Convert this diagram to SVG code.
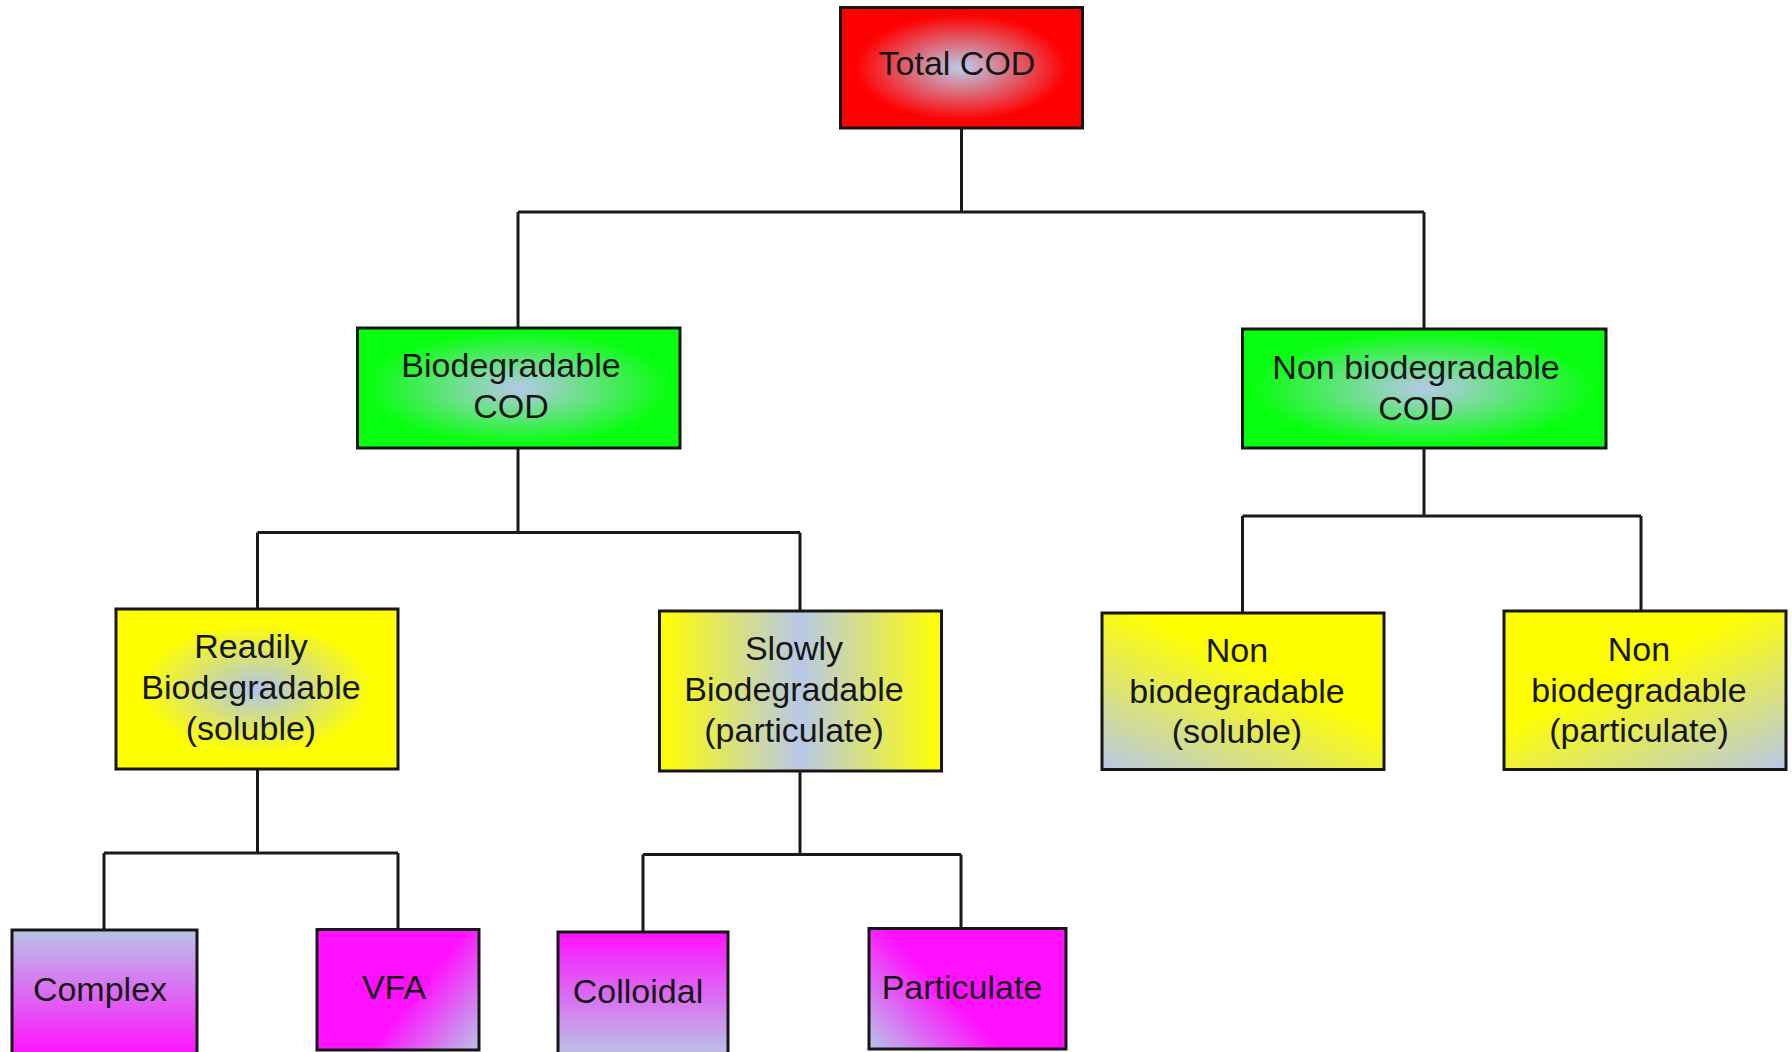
<svg xmlns="http://www.w3.org/2000/svg" width="1792" height="1052" viewBox="0 0 1792 1052">
<style>
.box{stroke:#161616;stroke-width:3}
.lbl{font-family:"Liberation Sans",Arial,sans-serif;font-size:34px;fill:#161616;text-anchor:middle}
.conn{fill:none;stroke:#1a1a1a;stroke-width:3;stroke-linejoin:miter}
</style>
<defs>
<radialGradient id="gRed" cx="50%" cy="50%" r="55%">
<stop offset="0" stop-color="#bccbe8"/><stop offset="0.8" stop-color="#ff0000"/></radialGradient>
<radialGradient id="gGreen" cx="50%" cy="50%" r="55%">
<stop offset="0" stop-color="#b8c8e8"/><stop offset="0.85" stop-color="#08ff10"/></radialGradient>
<radialGradient id="gYelRad" cx="50%" cy="50%" r="55%">
<stop offset="0" stop-color="#b0c4ec"/><stop offset="0.75" stop-color="#ffff00"/></radialGradient>
<linearGradient id="gYelMid" x1="0" y1="0" x2="1" y2="0">
<stop offset="0" stop-color="#ffff00"/><stop offset="0.5" stop-color="#b8c8e8"/><stop offset="1" stop-color="#ffff00"/></linearGradient>
<linearGradient id="gYelBL" x1="0" y1="1" x2="0.55" y2="0.35">
<stop offset="0" stop-color="#b8c8e8"/><stop offset="1" stop-color="#ffff00"/></linearGradient>
<linearGradient id="gYelBR" x1="1" y1="1" x2="0.45" y2="0.35">
<stop offset="0" stop-color="#b8c8e8"/><stop offset="1" stop-color="#ffff00"/></linearGradient>
<linearGradient id="gMagDown" x1="0" y1="0" x2="0" y2="1">
<stop offset="0" stop-color="#b8c4e6"/><stop offset="1" stop-color="#ff10ff"/></linearGradient>
<linearGradient id="gMagUp" x1="0" y1="1" x2="0" y2="0">
<stop offset="0" stop-color="#b8c4e6"/><stop offset="1" stop-color="#ff10ff"/></linearGradient>
<linearGradient id="gMagBR" x1="1" y1="1" x2="0.5" y2="0.7">
<stop offset="0" stop-color="#b8c4e6"/><stop offset="1" stop-color="#ff10ff"/></linearGradient>
<linearGradient id="gMagBL" x1="0" y1="1" x2="0.5" y2="0.7">
<stop offset="0" stop-color="#b8c4e6"/><stop offset="1" stop-color="#ff10ff"/></linearGradient>
</defs>

<g id="connectors">
<path class="conn" d="M961.5,128 V212 M518,212 H1424 M518,212 V328 M1424,212 V329"/>
<path class="conn" d="M518,448 V532.5 M257.5,532.5 H800 M257.5,532.5 V609 M800,532.5 V611"/>
<path class="conn" d="M1424,448 V516 M1242.5,516 H1641 M1242.5,516 V613 M1641,516 V611"/>
<path class="conn" d="M257.5,769 V853 M104,853 H398 M104,853 V930 M398,853 V929"/>
<path class="conn" d="M800,771 V854.5 M643,854.5 H961 M643,854.5 V932 M961,854.5 V928"/>
</g>

<g id="total-cod">
<rect class="box" x="840.5" y="7.5" width="242" height="120.5" fill="url(#gRed)"/>
<text class="lbl" x="957" y="75">Total COD</text>
</g>
<g id="biodegradable-cod">
<rect class="box" x="357.5" y="328" width="322.5" height="120" fill="url(#gGreen)"/>
<text class="lbl" x="511" y="377">Biodegradable</text>
<text class="lbl" x="511" y="418">COD</text>
</g>
<g id="non-biodegradable-cod">
<rect class="box" x="1242.5" y="329" width="363.5" height="119" fill="url(#gGreen)"/>
<text class="lbl" x="1416" y="379">Non biodegradable</text>
<text class="lbl" x="1416" y="420">COD</text>
</g>
<g id="readily-biodegradable">
<rect class="box" x="116" y="609" width="282" height="160" fill="url(#gYelRad)"/>
<text class="lbl" x="251" y="658">Readily</text>
<text class="lbl" x="251" y="699">Biodegradable</text>
<text class="lbl" x="251" y="740">(soluble)</text>
</g>
<g id="slowly-biodegradable">
<rect class="box" x="659.5" y="611" width="282" height="160" fill="url(#gYelMid)"/>
<text class="lbl" x="794" y="660">Slowly</text>
<text class="lbl" x="794" y="701">Biodegradable</text>
<text class="lbl" x="794" y="742">(particulate)</text>
</g>
<g id="non-biodegradable-soluble">
<rect class="box" x="1102" y="613" width="282" height="156.5" fill="url(#gYelBL)"/>
<text class="lbl" x="1237" y="662">Non</text>
<text class="lbl" x="1237" y="703">biodegradable</text>
<text class="lbl" x="1237" y="743">(soluble)</text>
</g>
<g id="non-biodegradable-particulate">
<rect class="box" x="1504" y="611" width="282" height="158.5" fill="url(#gYelBR)"/>
<text class="lbl" x="1639" y="661">Non</text>
<text class="lbl" x="1639" y="702">biodegradable</text>
<text class="lbl" x="1639" y="742">(particulate)</text>
</g>
<g id="complex">
<rect class="box" x="12" y="930" width="185" height="126" fill="url(#gMagDown)"/>
<text class="lbl" x="100" y="1001">Complex</text>
</g>
<g id="vfa">
<rect class="box" x="317" y="929.5" width="162" height="120.5" fill="url(#gMagBR)"/>
<text class="lbl" x="394" y="999">VFA</text>
</g>
<g id="colloidal">
<rect class="box" x="558" y="932" width="170" height="124" fill="url(#gMagUp)"/>
<text class="lbl" x="638" y="1003">Colloidal</text>
</g>
<g id="particulate">
<rect class="box" x="869" y="928.5" width="197" height="120.5" fill="url(#gMagBL)"/>
<text class="lbl" x="962" y="999">Particulate</text>
</g>
</svg>
